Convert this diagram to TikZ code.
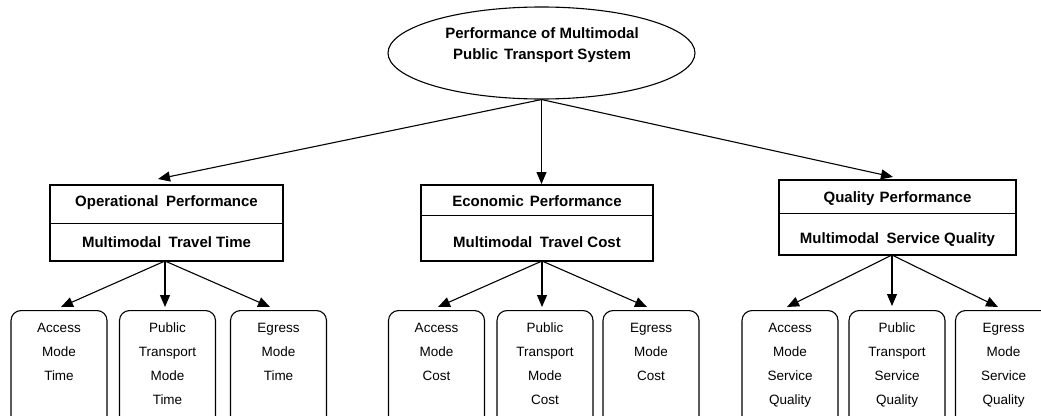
\documentclass[tikz,border=0pt]{standalone}
\usepackage{fontspec}
\setmainfont{Liberation Sans}
\usetikzlibrary{arrows.meta,shapes.geometric}
\begin{document}
\begin{tikzpicture}[x=1pt,y=-1pt,
  arr/.style={line width=1.1pt,-{Triangle[length=12pt,width=10pt]}},
  hdrbox/.style={draw,line width=1.1pt,rectangle,inner sep=0pt},
  leafbox/.style={draw,line width=1.1pt,rounded corners=10pt,minimum width=96pt,minimum height=130pt,inner sep=0pt,anchor=north},
  boldtxt/.style={font=\fontsize{15}{21}\selectfont\bfseries,inner sep=0pt},
  leaftxt/.style={font=\fontsize{13.5}{24}\selectfont,align=center,anchor=north,inner sep=0pt}
]
\useasboundingbox (0,0) rectangle (1041,415);
\clip (0,0) rectangle (1041,415);

% root
\node[ellipse,draw,line width=1.1pt,minimum width=307pt,minimum height=92pt,inner sep=0pt] (top) at (541.5,53) {};
\node[boldtxt,align=center,anchor=north] (toptxt) at (542,27.5) {Performance of Multimodal\\Public\hspace{0.4em}Transport System};

% header boxes
\node[hdrbox,minimum width=233pt,minimum height=76pt] (op) at (166.5,223) {};
\node[hdrbox,minimum width=232pt,minimum height=76pt] (eco) at (537,223) {};
\node[hdrbox,minimum width=237pt,minimum height=75pt] (qual) at (897.5,217.5) {};
\draw[line width=1.1pt] ([yshift=-39pt]op.north west) -- ([yshift=-39pt]op.north east);
\draw[line width=1.1pt] ([yshift=-31pt]eco.north west) -- ([yshift=-31pt]eco.north east);
\draw[line width=1.1pt] ([yshift=-34pt]qual.north west) -- ([yshift=-34pt]qual.north east);

\node[boldtxt,anchor=base] (opt1) at (166.5,206.3) {Operational\hspace{0.5em}Performance};
\node[boldtxt,anchor=base] (opt2) at (166.5,247.3) {Multimodal\hspace{0.5em}Travel Time};
\node[boldtxt,anchor=base] (ecot1) at (537,206.3) {Economic\hspace{0.4em}Performance};
\node[boldtxt,anchor=base] (ecot2) at (537,247.3) {Multimodal\hspace{0.5em}Travel Cost};
\node[boldtxt,anchor=base] (qualt1) at (897.5,202.3) {Quality\hspace{0.35em}Performance};
\node[boldtxt,anchor=base] (qualt2) at (897.5,243.3) {Multimodal\hspace{0.5em}Service Quality};

% leaf boxes
\node[leafbox] (l1) at (59,310) {};
\node[leafbox] (l2) at (167.5,310) {};
\node[leafbox] (l3) at (278.5,310) {};
\node[leafbox] (m1) at (436.5,310) {};
\node[leafbox] (m2) at (545,310) {};
\node[leafbox] (m3) at (651,310) {};
\node[leafbox] (r1) at (790,310) {};
\node[leafbox] (r2) at (897,310) {};
\node[leafbox] (r3) at (1003.5,310) {};

\node[leaftxt] (l1t) at (59,323) {Access\\Mode\\Time};
\node[leaftxt] (l2t) at (167.5,323) {Public\\Transport\\Mode\\Time};
\node[leaftxt] (l3t) at (278.5,323) {Egress\\Mode\\Time};
\node[leaftxt] (m1t) at (436.5,323) {Access\\Mode\\Cost};
\node[leaftxt] (m2t) at (545,323) {Public\\Transport\\Mode\\Cost};
\node[leaftxt] (m3t) at (651,323) {Egress\\Mode\\Cost};
\node[leaftxt] (r1t) at (790,323) {Access\\Mode\\Service\\Quality};
\node[leaftxt] (r2t) at (897,323) {Public\\Transport\\Service\\Quality};
\node[leaftxt] (r3t) at (1003.5,323) {Egress\\Mode\\Service\\Quality};

% arrow end points
\coordinate (ta) at (158,179);
\coordinate (tb) at (541.5,184);
\coordinate (tc) at (893,177);
\coordinate (ls) at (165,261);
\coordinate (la) at (61,307);
\coordinate (lb) at (165,307);
\coordinate (lc) at (270,307);
\coordinate (ms) at (542,261);
\coordinate (ma) at (438,307);
\coordinate (mb) at (542,307);
\coordinate (mc) at (647,307);
\coordinate (rs) at (892,255);
\coordinate (ra) at (787,307);
\coordinate (rb) at (892,306);
\coordinate (rc) at (998,307);

\draw[arr] (top.south) -- (ta);
\draw[arr] (top.south) -- (tb);
\draw[arr] (top.south) -- (tc);
\draw[arr] (ls) -- (la);
\draw[arr] (ls) -- (lb);
\draw[arr] (ls) -- (lc);
\draw[arr] (ms) -- (ma);
\draw[arr] (ms) -- (mb);
\draw[arr] (ms) -- (mc);
\draw[arr] (rs) -- (ra);
\draw[arr] (rs) -- (rb);
\draw[arr] (rs) -- (rc);
\end{tikzpicture}
\end{document}
